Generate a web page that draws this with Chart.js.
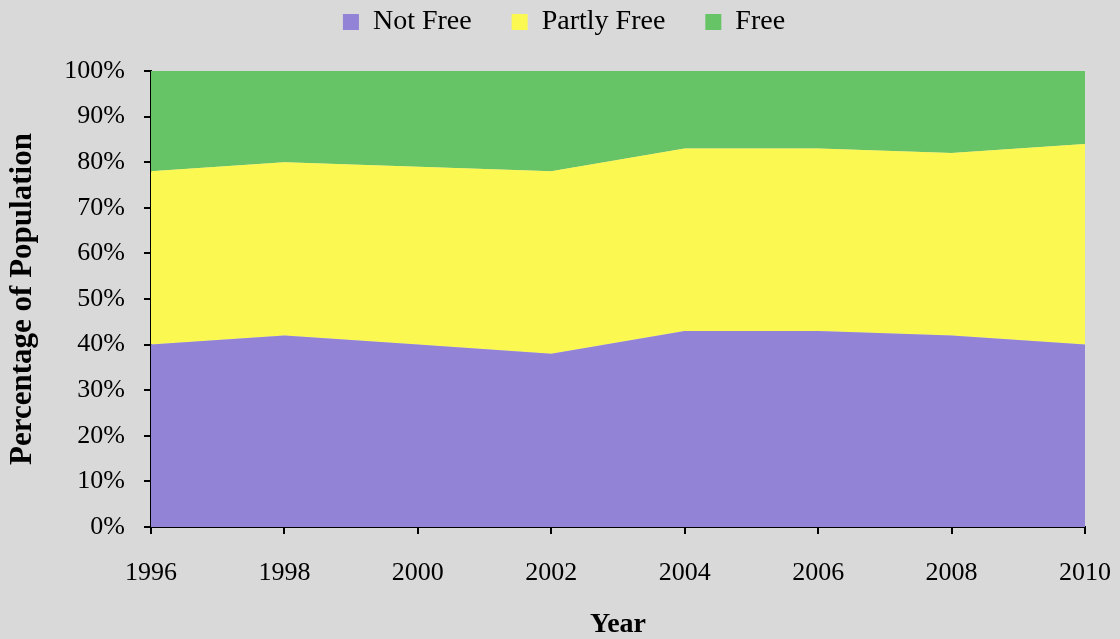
<!DOCTYPE html>
<html lang="en">
<head>
<meta charset="UTF-8">
<title>Freedom by Population</title>
<script src="https://cdn.jsdelivr.net/npm/chart.js"></script>
<style>
  html, body { margin: 0; padding: 0; background: #d9d9d9; }
  #wrap { width: 1120px; height: 639px; }
</style>
</head>
<body>
<div id="wrap"><canvas id="chart" width="1120" height="639"></canvas></div>
<script>
// data (percent of world population)
const years = ['1996', '1998', '2000', '2002', '2004', '2006', '2008', '2010'];
const notFree = [40, 42, 40, 38, 43, 43, 42, 40];
const partlyFree = [38, 38, 39, 40, 40, 40, 40, 44];
const free = [22, 20, 21, 22, 17, 17, 18, 16];
const yTicks = [0, 10, 20, 30, 40, 50, 60, 70, 80, 90, 100];

const serif = "'Liberation Serif', 'DejaVu Serif', serif";
Chart.defaults.font.family = serif;
Chart.defaults.color = '#000';

const LEGEND_PAD = 40;

function area(label, data, color, fill) {
    return {
        label: label,
        data: data,
        backgroundColor: color,
        borderColor: color,
        borderWidth: 0,
        pointRadius: 0,
        fill: fill,
        tension: 0
    };
}

// legend: fixed height above the plot, drawn a bit higher than chart.js would
const legendSpot = {
    id: 'legendSpot',
    beforeLayout(chart) {
        const lg = chart.legend;
        if (lg && !lg._patched) {
            const fit = lg.fit;
            lg.fit = function () { fit.call(this); this.height = 71; };
            lg._patched = true;
        }
    },
    afterLayout(chart) {
        const lg = chart.legend;
        lg.top = 8 - LEGEND_PAD;
        const shift = 564 - (lg.left + lg.right) / 2;
        lg.left += shift;
        lg.right += shift;
    }
};

new Chart(document.getElementById('chart').getContext('2d'), {
    type: 'line',
    data: {
        labels: years,
        datasets: [
            area('Not Free', notFree, '#9283d6', 'origin'),
            area('Partly Free', partlyFree, '#fbf951', '-1'),
            area('Free', free, '#66c466', '-1')
        ]
    },
    options: {
        responsive: false,
        animation: false,
        layout: { padding: { top: 0, right: 35, bottom: 0, left: 0 } },
        plugins: {
            legend: {
                position: 'top',
                labels: {
                    boxWidth: 16,
                    boxHeight: 16,
                    padding: LEGEND_PAD,
                    font: { size: 28 }
                }
            },
            tooltip: { enabled: false }
        },
        scales: {
            x: {
                offset: false,
                grid: { display: true, drawOnChartArea: false, color: '#000', tickLength: 7, lineWidth: 2 },
                border: { color: '#000', width: 2 },
                ticks: { font: { size: 26 }, padding: 24, maxRotation: 0 },
                title: { display: true, text: 'Year', font: { size: 28, weight: 'bold', lineHeight: 1 }, padding: { top: 0, bottom: 0 } },
                afterFit: function (s) {
                    s.height = 112;
                    s.paddingLeft = 0;
                    s.paddingRight = 0;
                }
            },
            y: {
                stacked: true,
                min: 0,
                max: 100,
                afterBuildTicks: function (s) { s.ticks = yTicks.map(v => ({ value: v })); },
                grid: { display: true, drawOnChartArea: false, color: '#000', tickLength: 7, lineWidth: 2 },
                border: { color: '#000', width: 2 },
                ticks: { font: { size: 26 }, padding: 19, callback: v => v + '%' },
                title: { display: true, text: 'Percentage of Population', font: { size: 31, weight: 'bold', lineHeight: 1 }, padding: { top: 7, bottom: 0 } },
                afterFit: function (s) { s.width = 151; }
            }
        }
    },
    plugins: [legendSpot]
});
</script>
</body>
</html>
